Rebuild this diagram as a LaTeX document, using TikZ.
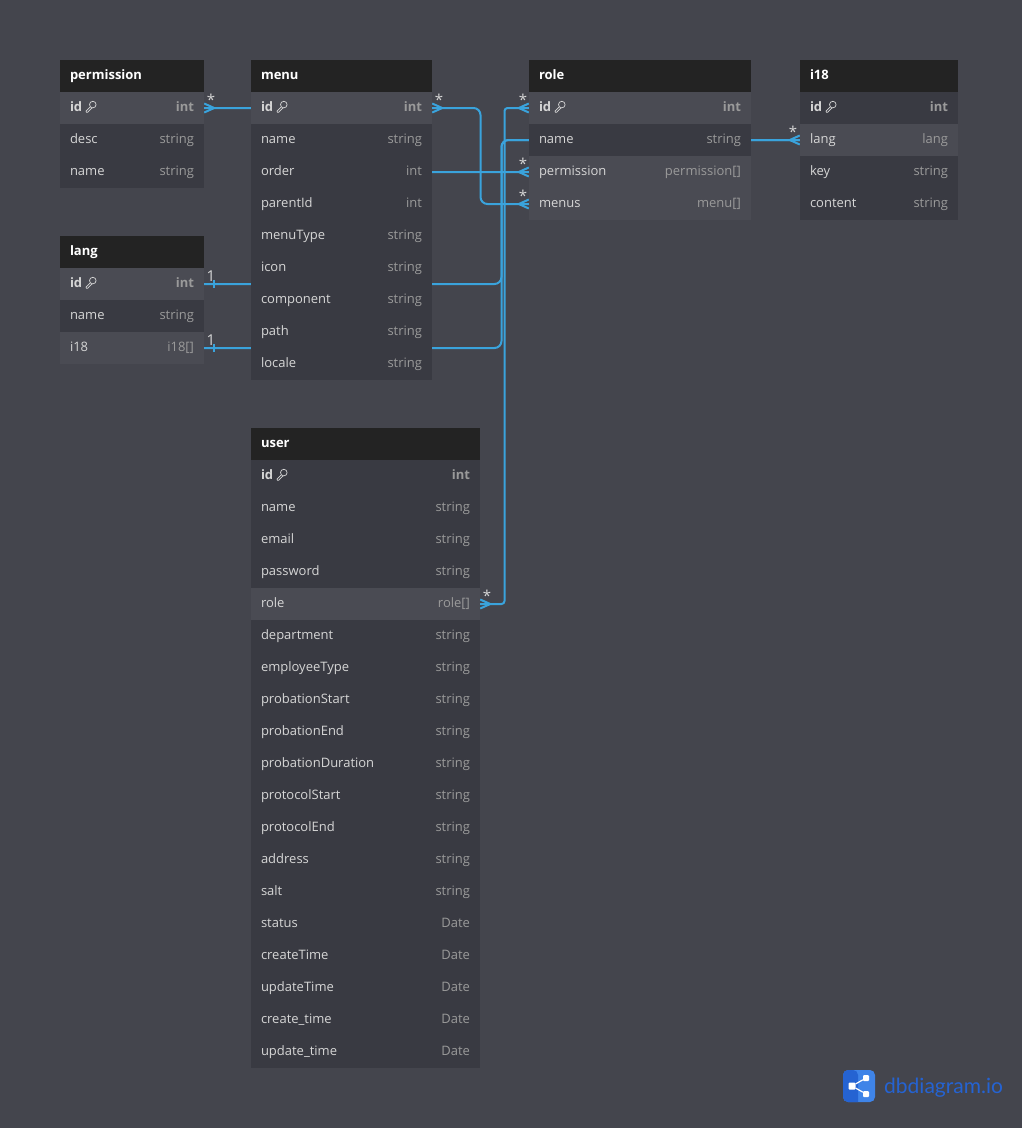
\documentclass[tikz,border=0pt]{standalone}
\usepackage{fontspec}
\setmainfont{Open Sans}
\newfontfamily\logofont{Lato}
\usetikzlibrary{positioning}
\usetikzlibrary{calc}
\definecolor{fond}{HTML}{44454D}
\definecolor{entete}{HTML}{232323}
\definecolor{sombre}{HTML}{393A42}
\definecolor{clair}{HTML}{4A4B53}
\definecolor{lien}{HTML}{3AA3DC}
\definecolor{nomcol}{HTML}{D6D6D6}
\definecolor{typecol}{HTML}{9A9A9A}
\definecolor{logofonce}{HTML}{2563D2}
\definecolor{logoclair}{HTML}{3F84E8}
\pgfdeclarelayer{fondcouche}
\pgfdeclarelayer{liens}
\pgfsetlayers{fondcouche,liens,main}
\tikzstyle{titre}=[rectangle,fill=entete,text=white,minimum height=32pt,inner sep=0pt,font=\fontsize{13}{15}\selectfont\bfseries]
\tikzstyle{ligne}=[rectangle,fill=sombre,minimum height=32pt,inner sep=0pt]
\tikzstyle{lignec}=[rectangle,fill=clair,minimum height=32pt,inner sep=0pt]
\tikzstyle{nom}=[anchor=base west,inner sep=0pt,text=nomcol,font=\fontsize{13}{15}\selectfont]
\tikzstyle{type}=[anchor=base east,inner sep=0pt,text=typecol,font=\fontsize{13}{15}\selectfont]
\tikzstyle{card}=[inner sep=0pt,text=nomcol,font=\fontsize{15}{17}\selectfont]
\tikzstyle{suite}=[draw=lien,line width=2pt,rounded corners=7pt]
\tikzstyle{patte}=[draw=lien,line width=2pt]
% titre: nom, centre, largeur, texte
\newcommand{\dbtitre}[4]{%
\node[titre,minimum width=#3pt] (#1) at #2 {};
\node[anchor=base west,inner sep=0pt,text=white,font=\fontsize{13}{15}\selectfont\bfseries] (#1txt) at ($(#1.west)+(10,3.5)$) {#4};
}
% ligne: style, nom, centre, largeur, champ, type
\newcommand{\dbligne}[6]{%
\node[#1,minimum width=#4pt] (#2) at #3 {};
\node[nom] (#2nom) at ($(#2.west)+(10,3.5)$) {#5};
\node[type] (#2type) at ($(#2.east)+(-10,3.5)$) {#6};
}
% ligne de cle: id en gras et petite cle
\newcommand{\dbcle}[4]{%
\node[#1,minimum width=#4pt] (#2) at #3 {};
\node[nom,font=\fontsize{13}{15}\selectfont\bfseries] (#2nom) at ($(#2.west)+(10,3.5)$) {id};
\node[type,font=\fontsize{13}{15}\selectfont\bfseries] (#2type) at ($(#2.east)+(-10,3.5)$) {int};
\draw[nomcol,line width=.7pt] ($(#2.west)+(33,-3.4)$) circle (3.3pt);
\draw[nomcol,line width=.7pt] ($(#2.west)+(30.4,-1.2)$) -- ($(#2.west)+(26.2,3)$) -- ($(#2.west)+(26.6,4.2)$) -- ($(#2.west)+(28,4.2)$) -- ($(#2.west)+(32,0)$);
}
% pattes d'oie: noeud, sens
\newcommand{\patteoie}[2]{%
\draw[patte] ($(#1)+(0,-4.5)$) -- ($(#1)+(#2*10,0)$) -- ($(#1)+(0,4.5)$);
}
% barre du cote 1
\newcommand{\barre}[1]{%
\draw[patte] ($(#1)+(10,-4)$) -- ($(#1)+(10,4)$);
}
\begin{document}
\begin{tikzpicture}[x=1pt,y=-1pt]
\useasboundingbox (0,0) rectangle (1022,1128);
\begin{pgfonlayer}{fondcouche}
\fill[fond] (0,0) rectangle (1022,1128);
\end{pgfonlayer}
%permission
\dbtitre{perm}{(132,76)}{144}{permission}
\dbcle{lignec}{permid}{(132,108)}{144}
\dbligne{ligne}{permdesc}{(132,140)}{144}{desc}{string}
\dbligne{ligne}{permname}{(132,172)}{144}{name}{string}
%lang
\dbtitre{lang}{(132,252)}{144}{lang}
\dbcle{lignec}{langid}{(132,284)}{144}
\dbligne{ligne}{langname}{(132,316)}{144}{name}{string}
\dbligne{lignec}{langitem}{(132,348)}{144}{i18}{i18[]}
%menu
\dbtitre{menu}{(341.5,76)}{181}{menu}
\dbcle{lignec}{menuid}{(341.5,108)}{181}
\dbligne{ligne}{menuname}{(341.5,140)}{181}{name}{string}
\dbligne{ligne}{menuorder}{(341.5,172)}{181}{order}{int}
\dbligne{ligne}{menuparent}{(341.5,204)}{181}{parentId}{int}
\dbligne{ligne}{menutype}{(341.5,236)}{181}{menuType}{string}
\dbligne{ligne}{menuicon}{(341.5,268)}{181}{icon}{string}
\dbligne{ligne}{menucomp}{(341.5,300)}{181}{component}{string}
\dbligne{ligne}{menupath}{(341.5,332)}{181}{path}{string}
\dbligne{ligne}{menulocale}{(341.5,364)}{181}{locale}{string}
%role
\dbtitre{role}{(640,76)}{222}{role}
\dbcle{lignec}{roleid}{(640,108)}{222}
\dbligne{ligne}{rolename}{(640,140)}{222}{name}{string}
\dbligne{lignec}{roleperm}{(640,172)}{222}{permission}{permission[]}
\dbligne{lignec}{rolemenus}{(640,204)}{222}{menus}{menu[]}
%i18
\dbtitre{item}{(879,76)}{158}{i18}
\dbcle{ligne}{itemid}{(879,108)}{158}
\dbligne{lignec}{itemlang}{(879,140)}{158}{lang}{lang}
\dbligne{ligne}{itemkey}{(879,172)}{158}{key}{string}
\dbligne{ligne}{itemcontent}{(879,204)}{158}{content}{string}
%user
\dbtitre{user}{(365.5,444)}{229}{user}
\dbcle{ligne}{userid}{(365.5,476)}{229}
\dbligne{ligne}{username}{(365.5,508)}{229}{name}{string}
\dbligne{ligne}{useremail}{(365.5,540)}{229}{email}{string}
\dbligne{ligne}{userpass}{(365.5,572)}{229}{password}{string}
\dbligne{lignec}{userrole}{(365.5,604)}{229}{role}{role[]}
\dbligne{ligne}{userdept}{(365.5,636)}{229}{department}{string}
\dbligne{ligne}{useremp}{(365.5,668)}{229}{employeeType}{string}
\dbligne{ligne}{userprobs}{(365.5,700)}{229}{probationStart}{string}
\dbligne{ligne}{userprobe}{(365.5,732)}{229}{probationEnd}{string}
\dbligne{ligne}{userprobd}{(365.5,764)}{229}{probationDuration}{string}
\dbligne{ligne}{userprots}{(365.5,796)}{229}{protocolStart}{string}
\dbligne{ligne}{userprote}{(365.5,828)}{229}{protocolEnd}{string}
\dbligne{ligne}{useraddr}{(365.5,860)}{229}{address}{string}
\dbligne{ligne}{usersalt}{(365.5,892)}{229}{salt}{string}
\dbligne{ligne}{userstatus}{(365.5,924)}{229}{status}{Date}
\dbligne{ligne}{usercreate}{(365.5,956)}{229}{createTime}{Date}
\dbligne{ligne}{userupdate}{(365.5,988)}{229}{updateTime}{Date}
\dbligne{ligne}{usercrt}{(365.5,1020)}{229}{create\_time}{Date}
\dbligne{ligne}{userupd}{(365.5,1052)}{229}{update\_time}{Date}
%liens sous les tables
\begin{pgfonlayer}{liens}
\draw[suite] (permid.east) -- (340,108) -- (340,172) -- (roleperm.west);
\draw[suite] (menuid.east) -- (480.5,108) -- (480.5,204) -- (rolemenus.west);
\draw[suite,rounded corners=3pt] (userrole.east) -- (504.5,604) -- (504.5,108) -- (roleid.west);
\draw[suite] (langid.east) -- (501.5,284) -- (501.5,140) -- (itemlang.west);
\draw[suite] (langitem.east) -- (501.5,348) -- (501.5,140) -- (itemlang.west);
\patteoie{permid.east}{1}
\patteoie{menuid.east}{1}
\patteoie{userrole.east}{1}
\patteoie{roleid.west}{-1}
\patteoie{roleperm.west}{-1}
\patteoie{rolemenus.west}{-1}
\patteoie{itemlang.west}{-1}
\barre{langid.east}
\barre{langitem.east}
\end{pgfonlayer}
%cardinalites
\node[card] (cardperm) at (211,100) {*};
\node[card] (cardmenu) at (439,100) {*};
\node[card] (cardroleid) at (523,100) {*};
\node[card] (cardroleperm) at (523,164) {*};
\node[card] (cardrolemenus) at (523,196) {*};
\node[card] (carditem) at (793,132) {*};
\node[card] (carduser) at (487,596) {*};
\node[card] (cardlangid) at (211,276) {1};
\node[card] (cardlangitem) at (211,340) {1};
%logo
\node[fill=logoclair,rounded corners=5pt,minimum width=32pt,minimum height=32pt,inner sep=0pt] (logo) at (859,1086) {};
\fill[logofonce,rounded corners=5pt] (843,1070) -- (858,1070) [sharp corners] -- (858,1102) [rounded corners=5pt] -- (843,1102) -- cycle;
\node[fill=white,minimum size=7pt,inner sep=0pt,rounded corners=1pt] (logoa) at (852,1086) {};
\node[fill=white,minimum size=6pt,inner sep=0pt,rounded corners=1pt] (logob) at (866,1078) {};
\node[fill=white,minimum size=6pt,inner sep=0pt,rounded corners=1pt] (logoc) at (866,1094) {};
\draw[white,line width=1.2pt] (logoa) -- (logob);
\draw[white,line width=1.2pt] (logoa) -- (logoc);
\node[anchor=base west,inner sep=0pt,text=logofonce,font=\logofont\fontsize{21}{23}\selectfont] (logotxt) at (884,1093) {dbdiagram.io};
\end{tikzpicture}
\end{document}
